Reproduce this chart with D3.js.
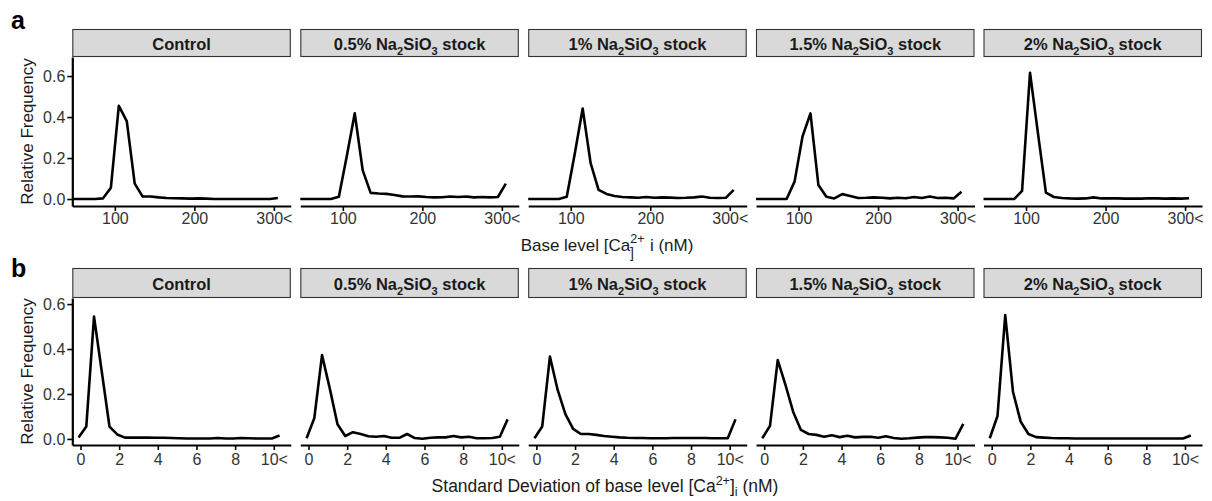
<!DOCTYPE html>
<html>
<head>
<meta charset="utf-8">
<script src="https://cdn.jsdelivr.net/npm/d3@7"></script>
<style>
  html, body { margin: 0; padding: 0; background: #fff; }
  svg { display: block; }
  text { font-family: "Liberation Sans", Arial, Helvetica, sans-serif; }
</style>
</head>
<body>
<svg id="chart" width="1212" height="501"></svg>
<script>
// ---------------- DATA ----------------
const groups = ["Control", "0.5%", "1%", "1.5%", "2%"];

// bin centres (row a: base level, nM; row b: SD of base level, nM)
const baseBins = [45, 55, 65, 75, 85, 95, 105, 115, 125, 135, 145, 155, 165, 175, 185,
                  195, 205, 215, 225, 235, 245, 255, 265, 275, 285, 295, 305];
const sdBins = [-0.1, 0.3, 0.7, 1.1, 1.5, 1.9, 2.3, 2.7, 3.1, 3.5, 3.9, 4.3, 4.7, 5.1,
                5.5, 5.9, 6.3, 6.7, 7.1, 7.5, 7.9, 8.3, 8.7, 9.1, 9.5, 9.9, 10.3];

const baseControl = [0, 0, 0, 0, 0.003, 0.055, 0.455, 0.38, 0.075, 0.012, 0.012, 0.008, 0.005, 0.004,
                     0.003, 0.002, 0.003, 0.002, 0, 0, 0, 0, 0, 0, 0, 0, 0.005];
const base05 = [0, 0, 0, 0, 0, 0.011, 0.21, 0.418, 0.14, 0.03, 0.027, 0.025, 0.02, 0.013,
                0.012, 0.013, 0.01, 0.008, 0.009, 0.012, 0.01, 0.012, 0.008, 0.01, 0.008, 0.01, 0.075];
const base1 = [0, 0, 0, 0, 0, 0.011, 0.22, 0.442, 0.175, 0.045, 0.025, 0.015, 0.01, 0.008,
               0.006, 0.01, 0.006, 0.008, 0.007, 0.005, 0.006, 0.008, 0.012, 0.006, 0.005, 0.006, 0.045];
const base15 = [0, 0, 0, 0, 0, 0.085, 0.305, 0.418, 0.068, 0.011, 0.003, 0.024, 0.015, 0.005,
                0.006, 0.008, 0.006, 0.003, 0.006, 0.004, 0.01, 0.005, 0.012, 0.005, 0.006, 0.003, 0.036];
const base2 = [0, 0, 0, 0, 0, 0.04, 0.616, 0.32, 0.031, 0.01, 0.005, 0.003, 0.002, 0.003,
               0.008, 0.003, 0.003, 0.003, 0.002, 0.002, 0.002, 0.004, 0.003, 0.002, 0.003, 0.002, 0.004];

const sdControl = [0.006, 0.055, 0.544, 0.3, 0.055, 0.02, 0.006, 0.006, 0.006, 0.006, 0.005, 0.005, 0.004,
                   0.003, 0.002, 0.002, 0.002, 0.002, 0.004, 0.002, 0.002, 0.004, 0.003, 0.002, 0.002, 0.002, 0.015];
const sd05 = [0.003, 0.092, 0.373, 0.225, 0.065, 0.013, 0.03, 0.022, 0.012, 0.01, 0.013, 0.005, 0.005,
              0.022, 0.004, 0.001, 0.005, 0.007, 0.007, 0.013, 0.007, 0.01, 0.003, 0.003, 0.004, 0.01, 0.087];
const sd1 = [0.003, 0.055, 0.366, 0.218, 0.11, 0.045, 0.022, 0.022, 0.018, 0.013, 0.01, 0.007, 0.005,
             0.004, 0.004, 0.003, 0.003, 0.003, 0.004, 0.004, 0.004, 0.004, 0.004, 0.003, 0.003, 0.003, 0.087];
const sd15 = [0.003, 0.058, 0.351, 0.24, 0.12, 0.04, 0.022, 0.018, 0.01, 0.016, 0.008, 0.014, 0.007,
              0.009, 0.01, 0.005, 0.012, 0.004, 0.001, 0.003, 0.006, 0.008, 0.008, 0.007, 0.005, 0.001, 0.067];
const sd2 = [0.003, 0.102, 0.551, 0.21, 0.077, 0.022, 0.008, 0.006, 0.004, 0.003, 0.003, 0.002, 0.002,
             0.002, 0.002, 0.002, 0.002, 0.002, 0.002, 0.002, 0.002, 0.002, 0.002, 0.002, 0.002, 0.002, 0.015];

const baseTicks = [100, 200, 300];
const baseTickLabels = ["100", "200", "300<"];
const sdTicks = [0, 2, 4, 6, 8, 10];
const sdTickLabels = ["0", "2", "4", "6", "8", "10<"];
const yTicks = [0, 0.2, 0.4, 0.6];
const yTickLabels = ["0.0", "0.2", "0.4", "0.6"];

// ---------------- LAYOUT ----------------
const svg = d3.select("#chart");
const panelLefts = [72.3, 300.3, 528.2, 756, 983.5];
const panelW = 218.5;
const FONT = "'Liberation Sans', Arial, Helvetica, sans-serif";

const rows = [
  {
    label: "a", labelY: 29,
    stripTop: 29, stripBot: 57, panelBot: 206,
    xDomain: [46.5, 321.3], yDomain: [-0.034, 0.693],
    bins: baseBins, series: [baseControl, base05, base1, base15, base2],
    ticks: baseTicks, tickLabels: baseTickLabels, tickLabelY: 12.8
  },
  {
    label: "b", labelY: 277,
    stripTop: 268, stripBot: 298, panelBot: 445,
    xDomain: [-0.424, 10.88], yDomain: [-0.027, 0.627],
    bins: sdBins, series: [sdControl, sd05, sd1, sd15, sd2],
    ticks: sdTicks, tickLabels: sdTickLabels, tickLabelY: 14.5
  }
];

function stripLabel(sel, g) {
  if (g === "Control") { sel.append("tspan").text("Control"); return; }
  sel.append("tspan").text(g + " Na");
  sel.append("tspan").attr("font-size", 11).attr("dy", 5).text("2");
  sel.append("tspan").attr("dy", -5).text("SiO");
  sel.append("tspan").attr("font-size", 11).attr("dy", 5).text("3");
  sel.append("tspan").attr("dy", -5).text(" stock");
}

const defs = svg.append("defs");

rows.forEach((r, ri) => {
  // panel letter
  svg.append("text").attr("x", 11).attr("y", r.labelY)
    .attr("font-size", 25).attr("font-weight", "bold").attr("fill", "#000")
    .text(r.label);

  const y = d3.scaleLinear().domain(r.yDomain).range([r.panelBot, r.stripBot]);

  groups.forEach((g, gi) => {
    const left = panelLefts[gi];
    const x = d3.scaleLinear().domain(r.xDomain).range([0, panelW]);
    const gp = svg.append("g").attr("transform", `translate(${left},0)`);

    // strip
    gp.append("rect").attr("x", 0.5).attr("y", r.stripTop + 0.5)
      .attr("width", panelW - 1).attr("height", r.stripBot - r.stripTop - 1)
      .attr("fill", "#d9d9d9").attr("stroke", "#333").attr("stroke-width", 1.1);
    const st = gp.append("text").attr("x", panelW / 2)
      .attr("y", (r.stripTop + r.stripBot) / 2 + 6.5)
      .attr("text-anchor", "middle").attr("font-size", 16.5).attr("font-weight", "bold")
      .attr("fill", "#1a1a1a");
    stripLabel(st, g);

    // clip
    const cid = `clip-${ri}-${gi}`;
    defs.append("clipPath").attr("id", cid).append("rect")
      .attr("x", 0).attr("y", r.stripBot).attr("width", panelW).attr("height", r.panelBot - r.stripBot);

    // line
    const line = d3.line().x((d, i) => x(r.bins[i])).y(d => y(d));
    gp.append("path").datum(r.series[gi])
      .attr("clip-path", `url(#${cid})`)
      .attr("d", line).attr("fill", "none").attr("stroke", "#000")
      .attr("stroke-width", 2.6).attr("stroke-linejoin", "round").attr("stroke-linecap", "butt");

    // x axis
    const xa = gp.append("g").attr("transform", `translate(0,${r.panelBot})`)
      .call(d3.axisBottom(x).tickValues(r.ticks)
        .tickFormat((d, i) => r.tickLabels[i]).tickSize(5).tickSizeOuter(0));
    xa.select(".domain").attr("stroke", "#000").attr("stroke-width", 2.2);
    xa.selectAll(".tick line").attr("stroke", "#000").attr("stroke-width", 1.6);
    xa.selectAll(".tick text").attr("font-size", 16).attr("fill", "#333")
      .attr("font-family", FONT).attr("y", r.tickLabelY).attr("dy", "0.35em");

    // y axis on first column
    if (gi === 0) {
      const ya = gp.append("g")
        .call(d3.axisLeft(y).tickValues(yTicks)
          .tickFormat((d, i) => yTickLabels[i]).tickSize(5).tickSizeOuter(0).tickPadding(2));
      ya.select(".domain").attr("stroke", "#000").attr("stroke-width", 2.2);
      ya.selectAll(".tick line").attr("stroke", "#000").attr("stroke-width", 1.6);
      ya.selectAll(".tick text").attr("font-size", 16).attr("fill", "#333").attr("font-family", FONT);
    }
  });

  // y title
  const yc = (r.stripBot + r.panelBot) / 2;
  svg.append("text").attr("transform", `translate(33,${yc}) rotate(-90)`)
    .attr("text-anchor", "middle").attr("font-size", 17).attr("fill", "#1a1a1a")
    .text("Relative Frequency");
});

// x titles
const t1 = svg.append("text").attr("x", 607).attr("y", 251).attr("text-anchor", "middle")
  .attr("font-size", 17).attr("fill", "#1a1a1a");
t1.append("tspan").text("Base level [Ca");
t1.append("tspan").attr("font-size", 12.5).attr("dy", -8).text("2+");
t1.append("tspan").attr("font-size", 14).attr("dx", -14.5).attr("dy", 15).text("]");
t1.append("tspan").attr("font-size", 17).attr("dx", 16).attr("dy", -7).text("i");
t1.append("tspan").text(" (nM)");

const t2 = svg.append("text").attr("x", 605).attr("y", 492).attr("text-anchor", "middle")
  .attr("font-size", 17.5).attr("fill", "#1a1a1a");
t2.append("tspan").text("Standard Deviation of base level [Ca");
t2.append("tspan").attr("font-size", 12.5).attr("dy", -7).text("2+");
t2.append("tspan").attr("dy", 7).text("]");
t2.append("tspan").attr("font-size", 12.5).attr("dy", 4).text("i");
t2.append("tspan").attr("dy", -4).text(" (nM)");
</script>
</body>
</html>
